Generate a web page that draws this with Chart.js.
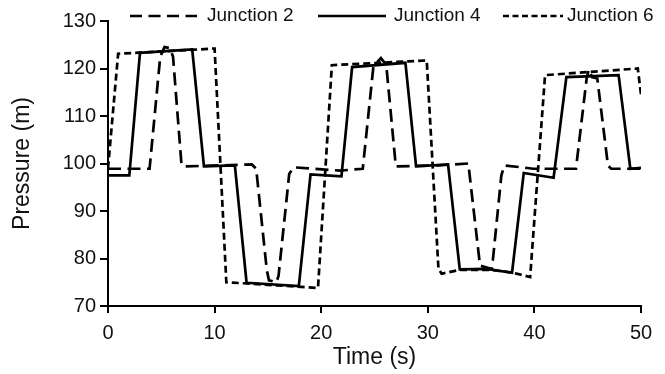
<!DOCTYPE html>
<html>
<head>
<meta charset="utf-8">
<script src="https://cdn.jsdelivr.net/npm/chart.js@4.4.1/dist/chart.umd.min.js"></script>
<style>
html, body { margin: 0; padding: 0; background: #fff; }
#wrap { width: 665px; height: 374px; }
</style>
</head>
<body>
<div id="wrap"><canvas id="c" width="665" height="374"></canvas></div>
<script>
const seriesNames = ['Junction 2', 'Junction 4', 'Junction 6'];
const xTicks = [0, 10, 20, 30, 40, 50];
const yTicks = [70, 80, 90, 100, 110, 120, 130];

const j2Time = [0, 3.9, 4.9, 5.3, 5.8, 6.1, 6.9, 7.4, 13.5, 13.9, 14.9, 15.1, 15.8, 16.0, 17.0, 17.4, 21.8, 23.9, 24.9, 25.6, 26.1, 27.0, 31.0, 33.8, 34.9, 36.0, 36.1, 36.9, 37.2, 39.9, 43.9, 44.9, 45.1, 45.4, 45.9, 46.9, 47.2, 50];
const j2Pressure = [98.9, 98.9, 122.5, 124.5, 124.3, 122.5, 99.6, 99.4, 99.8, 98.9, 77.5, 75.4, 75.0, 76.4, 97.8, 99.2, 98.5, 98.9, 120.5, 122.2, 120.8, 99.4, 99.6, 100.0, 78.5, 77.8, 79.6, 97.5, 99.6, 98.9, 98.9, 117.9, 119.8, 118.2, 117.9, 99.6, 98.9, 98.9];

const j4Time = [0, 2.0, 3.0, 7.9, 9.0, 11.9, 13.0, 17.9, 19.0, 21.9, 22.9, 27.9, 28.9, 31.9, 33.0, 35.5, 37.9, 39.0, 41.8, 43.0, 47.9, 49.0, 50];
const j4Pressure = [97.5, 97.5, 123.3, 124.0, 99.4, 99.6, 74.9, 74.2, 97.7, 97.3, 120.3, 121.2, 99.4, 99.8, 77.7, 77.8, 77.0, 98.0, 97.0, 118.2, 118.6, 98.9, 99.1];

const j6Time = [0, 0.95, 10.0, 11.1, 19.7, 21.0, 29.9, 31.0, 31.3, 33.0, 36.0, 38.0, 39.6, 41.0, 49.7, 50];
const j6Pressure = [99.0, 123.1, 124.2, 75.0, 73.8, 120.7, 121.7, 77.8, 76.8, 77.6, 77.6, 77.0, 76.1, 118.6, 120.0, 114.5];

const FONT = "'Liberation Sans', Arial, sans-serif";
const dashes = [[13, 6.5], [], [7, 4]];
const legendDashes = [[12, 6.5], [], [6, 3.5]];

function pts(t, p) { return t.map((v, i) => ({ x: v, y: p[i] })); }

const datasets = [
  { label: seriesNames[0], data: pts(j2Time, j2Pressure), borderDash: dashes[0] },
  { label: seriesNames[1], data: pts(j4Time, j4Pressure), borderDash: dashes[1] },
  { label: seriesNames[2], data: pts(j6Time, j6Pressure), borderDash: dashes[2] }
].map(d => Object.assign(d, {
  borderColor: '#000', borderWidth: 2.7, pointRadius: 0, tension: 0, fill: false
}));

const legendPlugin = {
  id: 'customLegend',
  afterDraw(chart) {
    const ctx = chart.ctx;
    const y = 16;
    const items = [
      { x0: 130, x1: 197, tx: 207 },
      { x0: 318, x1: 386, tx: 394 },
      { x0: 503, x1: 563, tx: 567 }
    ];
    ctx.save();
    items.forEach((it, i) => {
      ctx.beginPath();
      ctx.setLineDash(legendDashes[i]);
      ctx.lineWidth = 2.7;
      ctx.strokeStyle = '#000';
      ctx.moveTo(it.x0, y);
      ctx.lineTo(it.x1, y);
      ctx.stroke();
      ctx.setLineDash([]);
      ctx.fillStyle = '#111';
      ctx.font = '19px ' + FONT;
      ctx.textBaseline = 'middle';
      ctx.textAlign = 'left';
      ctx.fillText(seriesNames[i], it.tx, y);
    });
    ctx.restore();
  }
};

new Chart(document.getElementById('c'), {
  type: 'line',
  data: { datasets },
  plugins: [legendPlugin],
  options: {
    responsive: false,
    animation: false,
    layout: { padding: { left: 0, top: 21, right: 24, bottom: 0 } },
    plugins: { legend: { display: false }, tooltip: { enabled: false } },
    scales: {
      x: {
        type: 'linear', min: 0, max: 50,
        afterFit: s => { s.height = 68; },
        afterBuildTicks: s => { s.ticks = xTicks.map(v => ({ value: v })); },
        border: { display: true, color: '#000', width: 2 },
        grid: { display: true, drawOnChartArea: false, drawTicks: true, tickLength: 7, color: '#000', lineWidth: 2 },
        ticks: { color: '#111', font: { family: FONT, size: 20 }, padding: 8, maxRotation: 0 },
        title: { display: true, text: 'Time (s)', color: '#111', font: { family: FONT, size: 23 }, padding: { top: 0, bottom: 3 } }
      },
      y: {
        type: 'linear', min: 70, max: 130,
        afterFit: s => { s.width = 108; },
        afterBuildTicks: s => { s.ticks = yTicks.map(v => ({ value: v })); },
        border: { display: true, color: '#000', width: 2 },
        grid: { display: true, drawOnChartArea: false, drawTicks: true, tickLength: 8, color: '#000', lineWidth: 2 },
        ticks: { color: '#111', font: { family: FONT, size: 20 }, padding: 4 },
        title: { display: true, text: 'Pressure (m)', color: '#111', font: { family: FONT, size: 23 }, padding: { top: 9, bottom: 0 } }
      }
    }
  }
});
</script>
</body>
</html>
